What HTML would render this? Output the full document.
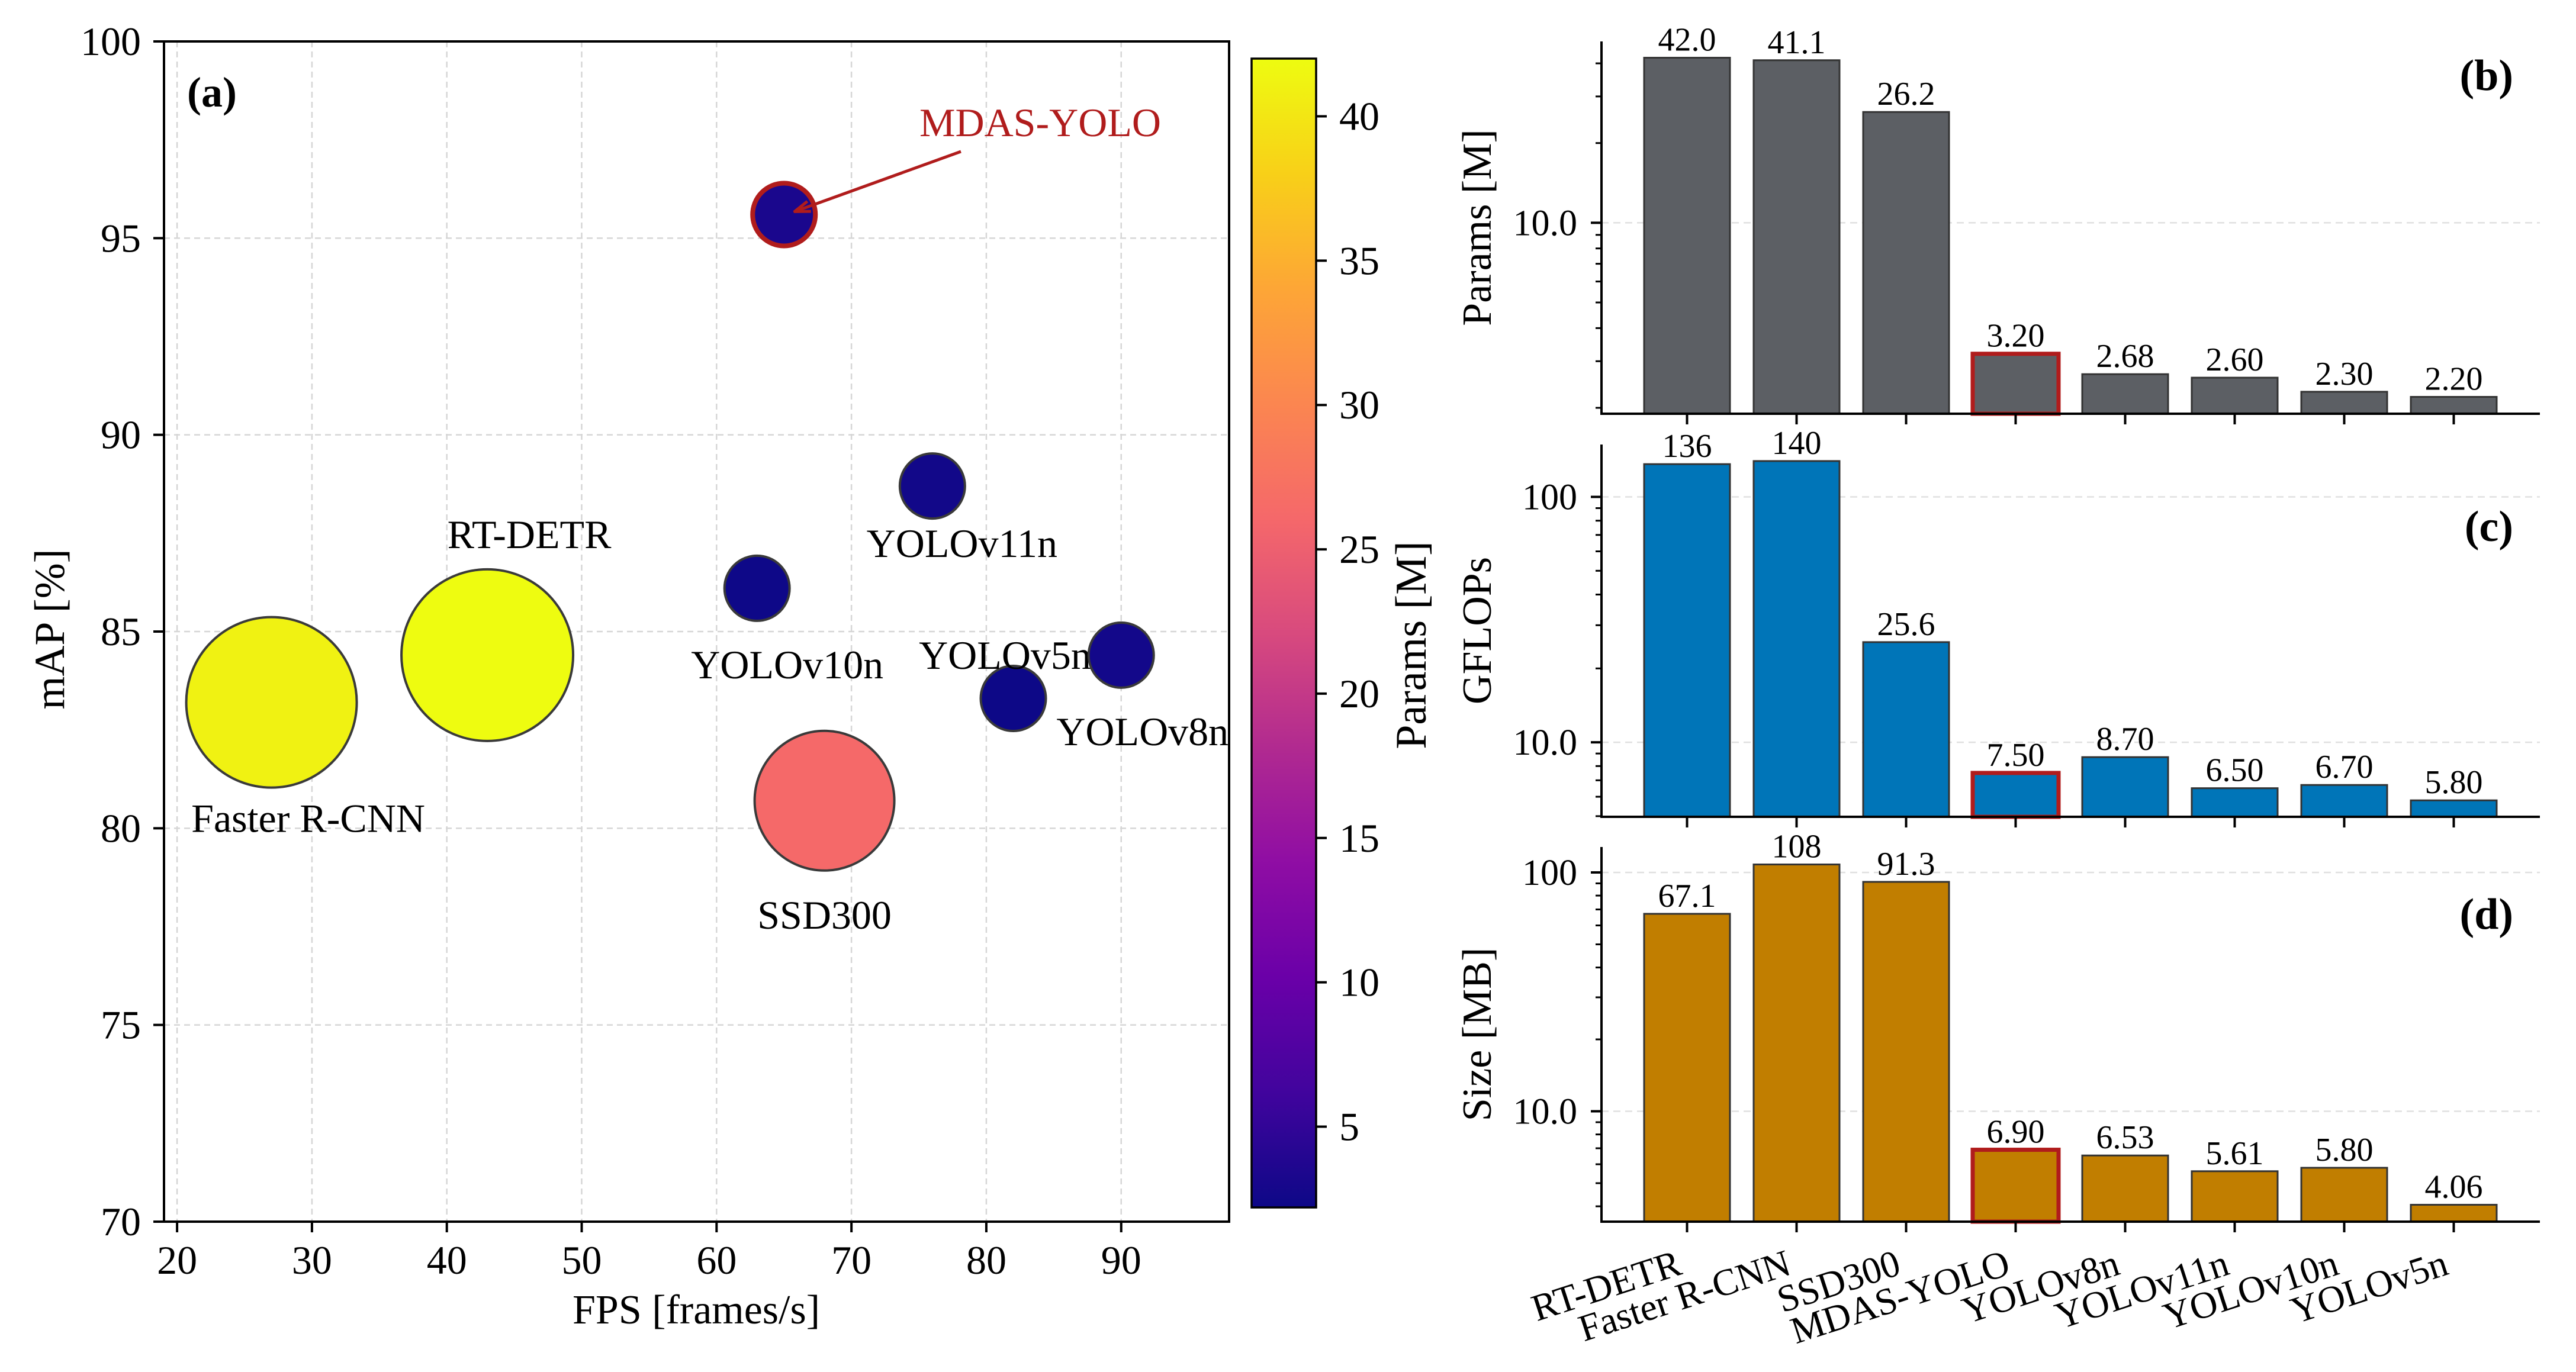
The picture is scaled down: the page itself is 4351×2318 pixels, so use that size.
<!DOCTYPE html>
<html><head><meta charset="utf-8"><style>
html,body{margin:0;padding:0;background:#fff}
svg{display:block;font-family:"Liberation Serif","DejaVu Serif",serif}
</style></head><body>
<svg id="fig" width="4351" height="2318" viewBox="0 0 4351 2318" xmlns="http://www.w3.org/2000/svg">
<defs>
<linearGradient id="plasma" x1="0" y1="1" x2="0" y2="0">
<stop offset="0" stop-color="#0d0887"/><stop offset="0.1" stop-color="#41049d"/><stop offset="0.2" stop-color="#6a00a8"/><stop offset="0.3" stop-color="#8f0da4"/><stop offset="0.4" stop-color="#b12a90"/><stop offset="0.5" stop-color="#d84a7e"/><stop offset="0.6" stop-color="#f5686a"/><stop offset="0.7" stop-color="#fb8650"/><stop offset="0.8" stop-color="#fda636"/><stop offset="0.9" stop-color="#f8d018"/><stop offset="1" stop-color="#eefc10"/>
</linearGradient>
<marker id="arrowhead" markerWidth="30" markerHeight="30" refX="28" refY="10" orient="auto" markerUnits="userSpaceOnUse" viewBox="0 0 30 20"><path d="M2,1 L28,10 L2,19" fill="none" stroke="#b01c1c" stroke-width="5"/></marker>
</defs>
<g id="scatter"></g>
<g id="cbar"></g>
<g id="bars"></g>
</svg>
<script>
// ---------- data ----------
const models = ["Faster R-CNN","RT-DETR","SSD300","YOLOv10n","YOLOv11n","YOLOv5n","YOLOv8n","MDAS-YOLO"];
const fpsValues = [27, 43, 68, 63, 76, 82, 90, 65];
const mapValues = [83.2, 84.4, 80.7, 86.1, 88.7, 83.3, 84.4, 95.6];
const paramValues = [41.1, 42.0, 26.2, 2.30, 2.60, 2.20, 2.68, 3.20];
const bubbleSize = [144, 145, 118, 55, 55, 55, 55, 57];
const xTicks = [20,30,40,50,60,70,80,90];
const yTicks = [70,75,80,85,90,95,100];
const cbarTicks = [5,10,15,20,25,30,35,40];

const barCategories = ["RT-DETR","Faster R-CNN","SSD300","MDAS-YOLO","YOLOv8n","YOLOv11n","YOLOv10n","YOLOv5n"];
const paramsBars = [42.0, 41.1, 26.2, 3.20, 2.68, 2.60, 2.30, 2.20];
const paramsLabels = ["42.0","41.1","26.2","3.20","2.68","2.60","2.30","2.20"];
const gflopsBars = [136, 140, 25.6, 7.50, 8.70, 6.50, 6.70, 5.80];
const gflopsLabels = ["136","140","25.6","7.50","8.70","6.50","6.70","5.80"];
const sizeBars = [67.1, 108, 91.3, 6.90, 6.53, 5.61, 5.80, 4.06];
const sizeLabels = ["67.1","108","91.3","6.90","6.53","5.61","5.80","4.06"];

const NS = "http://www.w3.org/2000/svg";
function mk(parent, tag, attrs, text){
  const e = document.createElementNS(NS, tag);
  for (const k in attrs) e.setAttribute(k, attrs[k]);
  if (text !== undefined) e.textContent = text;
  parent.appendChild(e);
  return e;
}
const plasmaStops = ["#0d0887","#41049d","#6a00a8","#8f0da4","#b12a90","#d84a7e","#f5686a","#fb8650","#fda636","#f8d018","#eefc10"];
function hex(c){return [parseInt(c.slice(1,3),16),parseInt(c.slice(3,5),16),parseInt(c.slice(5,7),16)];}
function plasma(t){
  t=Math.max(0,Math.min(1,t)); const p=t*10, i=Math.min(9,Math.floor(p)), f=p-i;
  const a=hex(plasmaStops[i]), b=hex(plasmaStops[i+1]);
  return "rgb("+a.map((v,k)=>Math.round(v+(b[k]-v)*f)).join(",")+")";
}

// ---------- scatter panel ----------
const S = document.getElementById("scatter");
const L=277, R=2076, T=70, B=2064;
const xMin=19.03, xMax=98.0, yMin=70, yMax=100;
const sx = v => L + (v-xMin)/(xMax-xMin)*(R-L);
const sy = v => B - (v-yMin)/(yMax-yMin)*(B-T);
const vmin=2.2, vmax=42.0;

xTicks.forEach(v=>{
  const g=mk(S,"line",{x1:sx(v),x2:sx(v),y1:T,y2:B,stroke:"#d6d6d6","stroke-width":2.5,"stroke-dasharray":"10,7"});
   
  const t=mk(S,"line",{x1:sx(v),x2:sx(v),y1:B,y2:B+18,stroke:"#000","stroke-width":4});
   
  const l=mk(S,"text",{x:sx(v),y:2152,"font-size":68,"text-anchor":"middle"},String(v));
   
});
yTicks.forEach(v=>{
  const g=mk(S,"line",{x1:L,x2:R,y1:sy(v),y2:sy(v),stroke:"#d6d6d6","stroke-width":2.5,"stroke-dasharray":"10,7"});
   
  const t=mk(S,"line",{x1:L-18,x2:L,y1:sy(v),y2:sy(v),stroke:"#000","stroke-width":4});
   
  const l=mk(S,"text",{x:238,y:sy(v)+23,"font-size":68,"text-anchor":"end"},String(v));
   
});
const frame=mk(S,"rect",{x:L,y:T,width:R-L,height:B-T,fill:"none",stroke:"#000","stroke-width":4});
 

const labelOffsets = {
  "Faster R-CNN":[62,219], "RT-DETR":[71,-181], "SSD300":[0,216], "YOLOv10n":[51,152],
  "YOLOv11n":[50,120], "YOLOv5n":[-14,-50], "YOLOv8n":[36,152], "MDAS-YOLO":[0,0]
};
models.forEach((m,i)=>{
  const cx=sx(fpsValues[i]), cy=sy(mapValues[i]);
  const isOurs = m==="MDAS-YOLO";
  const c=mk(S,"circle",{cx:cx,cy:cy,r:isOurs?bubbleSize[i]-4:bubbleSize[i],fill:plasma((paramValues[i]-vmin)/(vmax-vmin)),stroke:isOurs?"#b01c1c":"#3a3a3a","stroke-width":isOurs?8:4});
  
  
  if(!isOurs){
    const o=labelOffsets[m];
    const t=mk(S,"text",{x:cx+o[0],y:cy+o[1],"font-size":68,"text-anchor":"middle"},m);
     
  } else {
    const t=mk(S,"text",{x:1757,y:230,"font-size":68,"text-anchor":"middle",fill:"#b01c1c"},m);
     
    const a=mk(S,"line",{x1:1623,y1:256,x2:cx+18,y2:cy-5,stroke:"#b01c1c","stroke-width":5,"marker-end":"url(#arrowhead)"});
     
  }
});
const pa=mk(S,"text",{x:316,y:180,"font-size":72,"font-weight":"bold"},"(a)");
 
const xt=mk(S,"text",{x:1176,y:2236,"font-size":70,"text-anchor":"middle"},"FPS [frames/s]");
 
const yt=mk(S,"text",{x:0,y:0,"font-size":72,"text-anchor":"middle",transform:"translate(108,1063) rotate(-90)"},"mAP [%]");
 

// ---------- colorbar ----------
const C=document.getElementById("cbar");
const cL=2114, cR=2223, cT=99, cB=2040;
const cy2 = v => cB - (v-vmin)/(vmax-vmin)*(cB-cT);
const cr=mk(C,"rect",{x:cL,y:cT,width:cR-cL,height:cB-cT,fill:"url(#plasma)",stroke:"#000","stroke-width":3.5});
 
cbarTicks.forEach(v=>{
  const t=mk(C,"line",{x1:cR,x2:cR+18,y1:cy2(v),y2:cy2(v),stroke:"#000","stroke-width":4});
   
  const l=mk(C,"text",{x:2262,y:cy2(v)+23,"font-size":68},String(v));
   
});
const ct=mk(C,"text",{x:0,y:0,"font-size":74,"text-anchor":"middle",transform:"translate(2408,1090) rotate(-90)"},"Params [M]");
 

// ---------- bar panels ----------
const BG=document.getElementById("bars");
const bL=2705, bR=4290, step=185, c0=2849.5, bw=145;
const bx = i => c0 + i*step;
const panels = [
  {id:"b", vals:paramsBars, labs:paramsLabels, top:70, bot:699, lo:1.9, hi:48.4, color:"#5c5f64", title:"Params [M]", major:[10], majorLab:["10.0"], plab:[4245,152]},
  {id:"c", vals:gflopsBars, labs:gflopsLabels, top:751, bot:1380, lo:4.97, hi:163.5, color:"#0075b8", title:"GFLOPs", major:[10,100], majorLab:["10.0","100"], plab:[4245,914]},
  {id:"d", vals:sizeBars, labs:sizeLabels, top:1431, bot:2064, lo:3.45, hi:127.8, color:"#c17e00", title:"Size [MB]", major:[10,100], majorLab:["10.0","100"], plab:[4245,1569]}
];
panels.forEach(p=>{
  const g=mk(BG,"g",{});
   
  const ly=Math.log10(p.lo), hy=Math.log10(p.hi);
  const y = v => p.bot - (Math.log10(v)-ly)/(hy-ly)*(p.bot-p.top);
  p.major.forEach((v,k)=>{
    const gl=mk(g,"line",{x1:bL,x2:bR,y1:y(v),y2:y(v),stroke:"#e0e0e0","stroke-width":2.5,"stroke-dasharray":"12,8"});
     
  });
  for(let d=-1; d<=3; d++){
    for(let m=1; m<=9; m++){
      const v=m*Math.pow(10,d);
      if(v<p.lo||v>p.hi) continue;
      const isMaj = m===1;
      const t=mk(g,"line",{x1:bL-(isMaj?18:10),x2:bL,y1:y(v),y2:y(v),stroke:"#000","stroke-width":isMaj?4:3});
       
    }
  }
  p.major.forEach((v,k)=>{
    const l=mk(g,"text",{x:2664,y:y(v)+21,"font-size":62,"text-anchor":"end"},p.majorLab[k]);
     
  });
  p.vals.forEach((v,i)=>{
    const ours = barCategories[i]==="MDAS-YOLO";
    const r=mk(g,"rect",{x:bx(i)-bw/2,y:y(v),width:bw,height:p.bot-y(v),fill:p.color,stroke:ours?"#b01c1c":"#333","stroke-width":ours?7:3});
    
    
    const t=mk(g,"text",{x:bx(i),y:y(v)-12,"font-size":56,"text-anchor":"middle"},p.labs[i]);
     
    const tk=mk(g,"line",{x1:bx(i),x2:bx(i),y1:p.bot,y2:p.bot+18,stroke:"#000","stroke-width":4});
     
  });
  const ax=mk(g,"path",{d:`M${bL},${p.top} L${bL},${p.bot} L${bR},${p.bot}`,fill:"none",stroke:"#000","stroke-width":4});
   
  const ttl=mk(g,"text",{x:0,y:0,"font-size":70,"text-anchor":"middle",transform:`translate(2518,${(p.top+p.bot)/2}) rotate(-90)`},p.title);
   
  const pl=mk(g,"text",{x:p.plab[0],y:p.plab[1],"font-size":74,"font-weight":"bold","text-anchor":"end"},"("+p.id+")");
   
});
barCategories.forEach((c,i)=>{
  const x=bx(i)-6, yy=2152;
  const t=mk(BG,"text",{x:x,y:yy,"font-size":64,"text-anchor":"end",transform:`rotate(-18 ${x} ${yy})`},c);
   
});
</script>
</body></html>
